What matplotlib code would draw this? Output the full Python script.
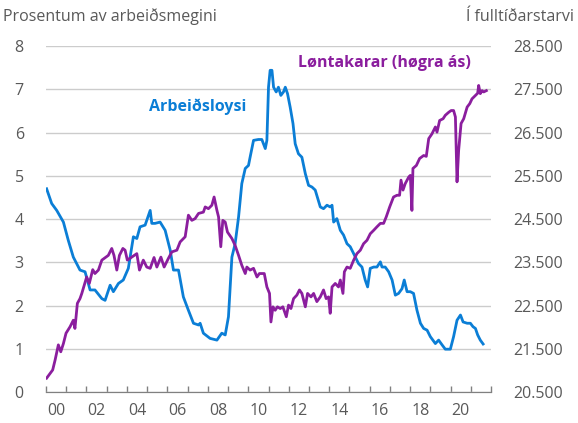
import matplotlib.pyplot as plt
from matplotlib.ticker import FuncFormatter, FixedLocator

# Arbeiðsloysi (prosent av arbeiðsmegini)
ar_ar = [2000.03, 2000.28, 2000.53, 2000.86, 2001.10, 2001.35, 2001.68, 2001.93, 2002.18, 2002.42,
         2002.76, 2002.92, 2003.17, 2003.33, 2003.58, 2003.82, 2004.07, 2004.32, 2004.49, 2004.65,
         2004.90, 2005.15, 2005.23, 2005.39, 2005.64, 2005.89, 2006.14, 2006.30, 2006.55, 2006.79,
         2007.04, 2007.29, 2007.54, 2007.62, 2007.78, 2008.11, 2008.45, 2008.69, 2008.86, 2009.02,
         2009.19, 2009.35, 2009.52, 2009.68, 2009.85, 2010.01, 2010.09, 2010.26, 2010.50, 2010.67,
         2010.84, 2010.92, 2011.00, 2011.08, 2011.17, 2011.25, 2011.38, 2011.49, 2011.61, 2011.74,
         2011.83, 2011.94, 2012.07, 2012.21, 2012.32, 2012.48, 2012.65, 2012.82, 2012.98, 2013.15,
         2013.31, 2013.56, 2013.72, 2013.89, 2014.05, 2014.14, 2014.22, 2014.38, 2014.55, 2014.71,
         2014.88, 2015.04, 2015.21, 2015.45, 2015.62, 2015.78, 2015.90, 2016.03, 2016.20, 2016.36,
         2016.53, 2016.61, 2016.77, 2016.94, 2017.11, 2017.27, 2017.43, 2017.60, 2017.71, 2017.85,
         2018.01, 2018.17, 2018.34, 2018.51, 2018.67, 2018.84, 2019.00, 2019.25, 2019.41, 2019.58,
         2019.74, 2019.99, 2020.15, 2020.32, 2020.49, 2020.62, 2020.82, 2020.98, 2021.11, 2021.23,
         2021.34, 2021.47, 2021.61]
arbeidsloysi = [4.70, 4.36, 4.20, 3.93, 3.51, 3.12, 2.82, 2.78, 2.36, 2.36,
                2.16, 2.12, 2.47, 2.32, 2.51, 2.59, 2.86, 3.59, 3.55, 3.82,
                3.86, 4.20, 3.90, 3.90, 3.93, 3.74, 3.28, 2.82, 2.82, 2.20,
                1.89, 1.59, 1.55, 1.59, 1.36, 1.24, 1.20, 1.36, 1.32, 1.74,
                3.12, 3.43, 4.05, 4.82, 5.17, 5.24, 5.43, 5.82, 5.84, 5.84,
                5.63, 5.82, 7.05, 7.44, 7.44, 7.05, 6.94, 7.05, 6.86, 6.94,
                7.05, 6.90, 6.59, 6.21, 5.74, 5.51, 5.43, 5.05, 4.78, 4.74,
                4.67, 4.28, 4.24, 4.32, 4.28, 4.32, 3.93, 4.01, 3.74, 3.63,
                3.43, 3.36, 3.20, 2.97, 2.89, 2.59, 2.43, 2.86, 2.89, 2.89,
                3.01, 2.89, 2.89, 2.78, 2.59, 2.24, 2.28, 2.39, 2.59, 2.32,
                2.32, 2.28, 1.89, 1.59, 1.47, 1.43, 1.28, 1.12, 1.20, 1.09,
                0.99, 0.99, 1.28, 1.66, 1.78, 1.62, 1.59, 1.59, 1.51, 1.47,
                1.32, 1.20, 1.11]

# Løntakarar (í fulltíðarstarvi, høgra ás)
lt_ar = [2000.03, 2000.20, 2000.33, 2000.45, 2000.61, 2000.73, 2000.86, 2000.99, 2001.19, 2001.35,
         2001.43, 2001.55, 2001.68, 2001.77, 2002.01, 2002.14, 2002.31, 2002.42, 2002.59, 2002.76,
         2003.08, 2003.25, 2003.36, 2003.50, 2003.63, 2003.80, 2003.91, 2004.02, 2004.24, 2004.49,
         2004.62, 2004.81, 2004.98, 2005.15, 2005.34, 2005.48, 2005.68, 2005.84, 2006.05, 2006.22,
         2006.47, 2006.63, 2006.88, 2007.04, 2007.21, 2007.37, 2007.54, 2007.78, 2007.87, 2008.03,
         2008.20, 2008.31, 2008.45, 2008.53, 2008.64, 2008.74, 2008.86, 2008.97, 2009.19, 2009.35,
         2009.52, 2009.68, 2009.85, 2009.93, 2010.09, 2010.26, 2010.43, 2010.55, 2010.79, 2010.92,
         2011.05, 2011.12, 2011.22, 2011.33, 2011.44, 2011.58, 2011.71, 2011.88, 2011.99, 2012.11,
         2012.24, 2012.40, 2012.53, 2012.65, 2012.82, 2012.93, 2013.10, 2013.23, 2013.39, 2013.56,
         2013.72, 2013.85, 2013.97, 2014.05, 2014.14, 2014.30, 2014.46, 2014.55, 2014.68, 2014.75,
         2014.88, 2015.04, 2015.21, 2015.37, 2015.54, 2015.70, 2015.87, 2016.03, 2016.20, 2016.36,
         2016.53, 2016.69, 2016.82, 2016.99, 2017.18, 2017.35, 2017.48, 2017.55, 2017.65, 2017.76,
         2017.93, 2018.01, 2018.09, 2018.14, 2018.31, 2018.47, 2018.67, 2018.80, 2018.92, 2019.08,
         2019.25, 2019.33, 2019.46, 2019.63, 2019.74, 2019.91, 2020.03, 2020.15, 2020.24, 2020.32,
         2020.40, 2020.52, 2020.65, 2020.82, 2020.95, 2021.06, 2021.23, 2021.34, 2021.39, 2021.47,
         2021.56, 2021.64, 2021.77]
lontakarar = [20820, 20930, 21010, 21240, 21590, 21430, 21620, 21860, 22010, 22160,
              21970, 22550, 22660, 22780, 23160, 23010, 23330, 23240, 23320, 23550,
              23660, 23820, 23660, 23320, 23660, 23820, 23780, 23550, 23620, 23700,
              23320, 23550, 23390, 23360, 23610, 23390, 23620, 23390, 23590, 23740,
              23780, 23970, 24090, 24590, 24470, 24510, 24630, 24660, 24780, 24740,
              24820, 25010, 24700, 24550, 23860, 24470, 24430, 24200, 24050, 23890,
              23660, 23430, 23240, 23390, 23320, 23360, 23160, 23240, 23240, 22930,
              22780, 22120, 22470, 22390, 22470, 22430, 22470, 22240, 22510, 22430,
              22660, 22740, 22860, 22780, 22470, 22780, 22700, 22780, 22590, 22700,
              22860, 22660, 22700, 22320, 22930, 23010, 22930, 23090, 22780, 23280,
              23390, 23360, 23550, 23700, 23780, 23930, 24010, 24160, 24240, 24320,
              24400, 24400, 24550, 24780, 25010, 25050, 25050, 25400, 25170, 25320,
              25470, 25510, 24700, 25670, 25740, 25900, 25970, 25950, 26360, 26470,
              26630, 26510, 26780, 26820, 26900, 26970, 27010, 27010, 26860, 25360,
              26090, 26710, 26820, 27090, 27170, 27280, 27360, 27410, 27590, 27400,
              27470, 27440, 27470]

ar_merki = ['00', '02', '04', '06', '08', '10', '12', '14', '16', '18', '20']

BLAR = '#0b7ed6'
LILLA = '#8b1e9e'
GRAR = '#595959'

plt.rcParams['font.family'] = ['Open Sans', 'DejaVu Sans']


def tusund(v, pos):
    return f'{int(v):,}'.replace(',', '.')


def generar_grafico():
    fig = plt.figure(figsize=(5.78, 4.23), dpi=100)
    ax = fig.add_axes([0.0796, 0.0733, 0.7699, 0.8177])
    ax2 = ax.twinx()

    ax.plot(ar_ar, arbeidsloysi, color=BLAR, lw=2.0, zorder=3)
    ax2.plot(lt_ar, lontakarar, color=LILLA, lw=2.0, zorder=3)

    ax.set_xlim(2000, 2022)
    ax.set_ylim(0, 8)
    ax2.set_ylim(20500, 28500)

    ax.set_yticks(range(0, 9))
    ax2.set_yticks(range(20500, 28501, 1000))
    ax2.yaxis.set_major_formatter(FuncFormatter(tusund))

    # ár-strikur og merki mitt ímillum
    ax.xaxis.set_major_locator(FixedLocator(range(2000, 2023)))
    ax.xaxis.set_minor_locator(FixedLocator([2000.5 + 2 * i for i in range(len(ar_merki))]))
    ax.xaxis.set_major_formatter(FuncFormatter(lambda v, p: ''))
    ax.set_xticklabels(ar_merki, minor=True)
    ax.tick_params(axis='x', which='major', direction='in', length=4, color='#808080', width=1)
    ax.tick_params(axis='x', which='minor', length=0, pad=8, labelsize=11.5, labelcolor=GRAR)

    ax.tick_params(axis='y', length=0, pad=16, labelsize=11.5, labelcolor=GRAR)
    ax2.tick_params(axis='y', length=0, pad=16, labelsize=11.5, labelcolor=GRAR)

    ax.grid(axis='y', color='#cccccc', lw=1)
    ax.set_axisbelow(True)
    for a in (ax, ax2):
        for s in ('left', 'right', 'top'):
            a.spines[s].set_visible(False)
        a.spines['bottom'].set_color('#808080')

    fig.text(0.005, 0.96, 'Prosentum av arbeiðsmegini', color=GRAR, fontsize=11.5, va='center')
    fig.text(0.993, 0.96, 'Í fulltíðarstarvi', color=GRAR, fontsize=11.5, va='center', ha='right')
    ax.text(2005.1, 6.6, 'Arbeiðsloysi', color=BLAR, fontsize=11.5, fontweight='bold', va='center')
    ax.text(2012.45, 7.6, 'Løntakarar (høgra ás)', color=LILLA, fontsize=11.5,
            fontweight='bold', va='center')

    fig.savefig('out.png', dpi=100)
    plt.close(fig)


if __name__ == '__main__':
    generar_grafico()
